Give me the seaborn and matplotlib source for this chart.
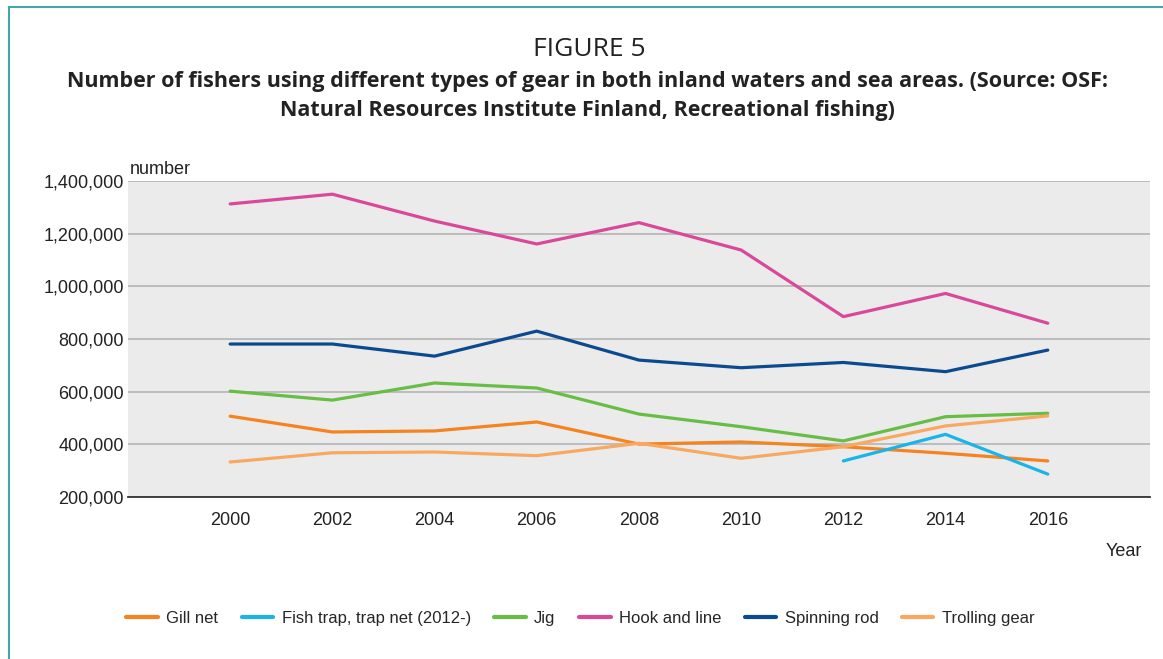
import pandas as pd
import numpy as np
import matplotlib
matplotlib.use('Agg')
import matplotlib.pyplot as plt
import matplotlib.patches as patches
from matplotlib.ticker import FuncFormatter
import seaborn as sns

# Data
years = [2000, 2002, 2004, 2006, 2008, 2010, 2012, 2014, 2016]
gill_net = [507000, 447000, 451000, 485000, 401000, 409000, 391000, 366000, 337000]
fish_trap = [np.nan, np.nan, np.nan, np.nan, np.nan, np.nan, 337000, 438000, 287000]
jig = [602000, 568000, 633000, 614000, 515000, 467000, 413000, 505000, 518000]
hook_and_line = [1313000, 1350000, 1248000, 1161000, 1242000, 1138000, 885000, 973000, 860000]
spinning_rod = [781000, 781000, 735000, 830000, 720000, 691000, 711000, 676000, 758000]
trolling_gear = [333000, 368000, 371000, 357000, 404000, 347000, 391000, 470000, 508000]

gear_names = ['Gill net', 'Fish trap, trap net (2012-)', 'Jig', 'Hook and line',
              'Spinning rod', 'Trolling gear']
gear_colors = ['#f5831f', '#1ab4e8', '#68bd45', '#d9489b', '#0c4a8f', '#f9a860']

series = [gill_net, fish_trap, jig, hook_and_line, spinning_rod, trolling_gear]
df = pd.DataFrame({
    'Year': np.tile(years, len(gear_names)),
    'number': np.concatenate(series),
    'gear': np.repeat(gear_names, len(years)),
}).dropna()

sns.set_style('white', {'axes.facecolor': '#ebebeb'})
plt.rcParams['font.family'] = ['Liberation Sans', 'DejaVu Sans']

fig = plt.figure(figsize=(11.63, 6.59), dpi=100)
ax = fig.add_axes([0.110, 0.2458, 0.8788, 0.4795])

sns.lineplot(data=df, x='Year', y='number', hue='gear', hue_order=gear_names,
             palette=gear_colors, linewidth=2.3, ax=ax, legend=False)

ax.set_xlim(1998, 2018)
ax.set_ylim(200000, 1400000)
ax.set_xticks(years)
ax.set_yticks(range(200000, 1400001, 200000))
ax.yaxis.set_major_formatter(FuncFormatter(lambda v, p: f'{int(v):,}'))
ax.tick_params(axis='both', length=0, labelsize=13, colors='#222222')
ax.tick_params(axis='x', pad=11)
ax.tick_params(axis='y', pad=3)
ax.grid(axis='y', color='#b4b4b4', linewidth=1.2)
ax.set_axisbelow(True)
for s in ['left', 'right', 'top']:
    ax.spines[s].set_visible(False)
ax.spines['bottom'].set_color('#333333')
ax.spines['bottom'].set_linewidth(1.3)
ax.set_xlabel('')
ax.set_ylabel('')

ax.text(0.002, 1.008, 'number', transform=ax.transAxes, fontsize=13,
        color='#222222', ha='left', va='bottom')
ax.text(0.9925, -0.145, 'Year', transform=ax.transAxes, fontsize=13,
        color='#222222', ha='right', va='top')

# Titles
fig.text(0.507, 0.925, 'FIGURE 5', fontsize=19, ha='center', va='center',
         family=['Open Sans', 'DejaVu Sans'], color='#222222')
fig.text(0.505, 0.855,
         'Number of fishers using different types of gear in both inland waters and sea areas. (Source: OSF:\n'
         'Natural Resources Institute Finland, Recreational fishing)',
         fontsize=15.5, fontweight='bold', ha='center', va='center', linespacing=1.5,
         family=['Open Sans', 'DejaVu Sans'], color='#222222')

# Legend
handles = [plt.Line2D([], [], color=c, linewidth=3) for c in gear_colors]
fig.legend(handles, gear_names, loc='center', bbox_to_anchor=(0.499, 0.062),
           ncol=6, frameon=False, fontsize=12, handlelength=1.9,
           handletextpad=0.5, columnspacing=1.4)

# Teal frame (open on the right and bottom)
fig.patches.append(patches.Rectangle((0.0077, -0.02), 1.05, 1.0094, transform=fig.transFigure,
                                     fill=False, edgecolor='#2aa3a3', linewidth=1.3))

fig.savefig('out.png', dpi=100)
